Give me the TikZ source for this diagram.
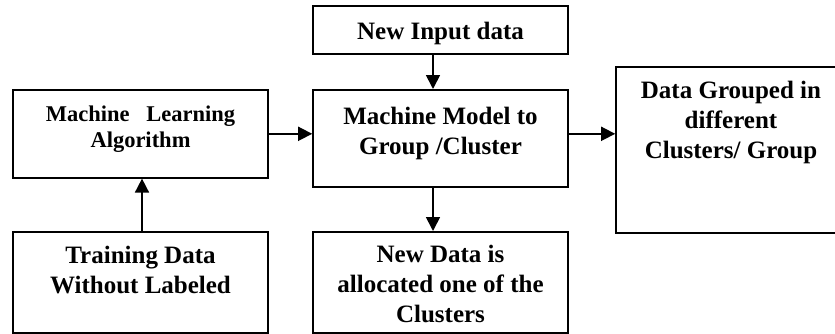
\documentclass[tikz,border=0pt]{standalone}
\usepackage{fontspec}
\setmainfont{Liberation Serif}
\usetikzlibrary{arrows.meta,positioning,calc}

\tikzset{
  blockbox/.style={draw,line width=1.6pt,minimum width=255pt,align=center,
    inner sep=0pt,anchor=north,font=\fontsize{25}{30}\selectfont\bfseries},
  flowarrow/.style={-{Triangle[length=14pt,width=14pt]},line width=1.7pt}
}

\begin{document}
\begin{tikzpicture}
  \begin{scope}[x=1pt,y=-1pt]
    \useasboundingbox (0,0) rectangle (835,333);
    \node[blockbox,text height=34pt,text depth=14pt] (newin) at (440.5,5)
      {New Input data};
    \node[blockbox,text height=58pt,text depth=30pt,
      font=\fontsize{22.5}{26}\selectfont\bfseries] (mlalgo) at (140.5,89)
      {Machine\ \ \ Learning\\Algorithm};
    \node[blockbox,text height=65pt,text depth=32pt] (model) at (440.5,89)
      {Machine Model to\\Group /Cluster};
    \node[blockbox,minimum width=230pt,text height=92pt,text depth=74pt]
      (grouped) at (731,66) {Data Grouped in\\different\\Clusters/ Group};
    \node[blockbox,text height=62pt,text depth=39pt] (train) at (140.5,231)
      {Training Data\\Without Labeled};
    \node[blockbox,text height=91pt,text depth=10pt] (newdata) at (440.5,231)
      {New Data is\\allocated one of the\\Clusters};

    \draw[flowarrow] ([xshift=-7.5pt]newin.south) -- ([xshift=-7.5pt]model.north);
    \draw[flowarrow] (mlalgo.east) -- (mlalgo.east -| model.west);
    \draw[flowarrow] ([yshift=4.5pt]model.east) -- ([yshift=4.5pt]model.east -| grouped.west);
    \draw[flowarrow] ([xshift=1.5pt]train.north) -- ([xshift=1.5pt]mlalgo.south);
    \draw[flowarrow] ([xshift=-7.5pt]model.south) -- ([xshift=-7.5pt]newdata.north);
  \end{scope}
\end{tikzpicture}
\end{document}
